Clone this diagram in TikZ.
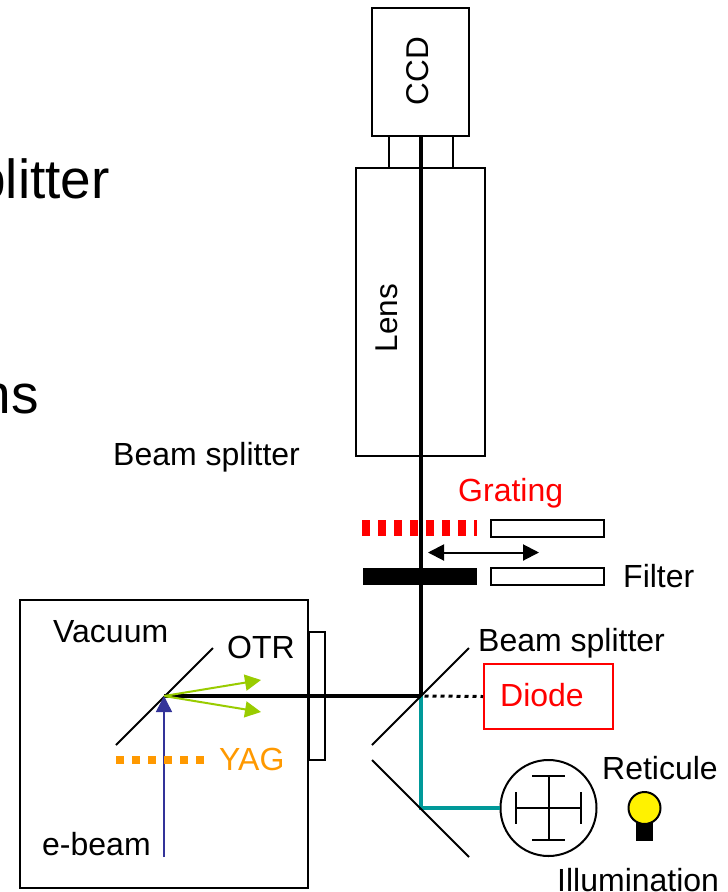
\documentclass[tikz,border=0pt]{standalone}
\usepackage{fontspec}
\setmainfont{Liberation Sans}
\usetikzlibrary{arrows.meta}
\definecolor{teal1}{HTML}{009999}
\definecolor{green1}{HTML}{99CC00}
\definecolor{blue1}{HTML}{333399}
\definecolor{orange1}{HTML}{FF9900}
\tikzset{
  box/.style={draw=black,line width=2pt,inner sep=0pt,fill=white},
  lbl/.style={inner sep=0pt,anchor=base west,font=\fontsize{32}{36}\selectfont},
  big/.style={inner sep=0pt,anchor=base east,font=\fontsize{55}{60}\selectfont},
  rot/.style={inner sep=0pt,rotate=90,font=\fontsize{31.5}{36}\selectfont},
  mirror/.style={line width=2pt},
  beam/.style={line width=4pt},
  tealbeam/.style={line width=4pt,teal1},
}
\begin{document}
\begin{tikzpicture}[x=1pt,y=-1pt]
\useasboundingbox (0,0) rectangle (728,892);
\clip (0,0) rectangle (728,892);
% cut-off large text
\node[big] (bigone) at (110,198) {plitter};
\node[big] (bigtwo) at (39,413) {ns};
% boxes
\node[box,minimum width=97pt,minimum height=128pt] (ccd) at (420.75,72) {};
\node[box,minimum width=64pt,minimum height=32pt] (neck) at (420.5,152) {};
\node[box,minimum width=129pt,minimum height=288pt] (lens) at (420.5,312) {};
\node[box,minimum width=288pt,minimum height=288pt] (vac) at (164,744) {};
\node[box,minimum width=16pt,minimum height=128pt] (win) at (316.5,696) {};
\node[box,minimum width=113pt,minimum height=17pt] (grrect) at (547.5,528.5) {};
\node[box,minimum width=113pt,minimum height=17pt] (firect) at (547.5,576.5) {};
\node[draw=red,line width=2pt,inner sep=0pt,minimum width=129pt,minimum height=65pt] (diode) at (548.5,696.5) {};
% coordinates
\coordinate (bs) at (420.5,696);
\coordinate (otr) at (164,696);
\coordinate (fold) at (420.5,808);
\coordinate (ebeam) at (164,857);
\coordinate (g1) at (261,680);
\coordinate (g2) at (261,712);
\coordinate (gratL) at (362,528);
\coordinate (gratR) at (477,528);
\coordinate (filtL) at (363,576.5);
\coordinate (filtR) at (477,576.5);
\coordinate (yagL) at (116,760);
\coordinate (yagR) at (206,760);
\coordinate (arrL) at (428,552.5);
\coordinate (arrR) at (539,552.5);
% reticule
\node[draw=black,fill=white,line width=2pt,circle,inner sep=0pt,minimum size=96pt] (ret) at (548.5,808) {};
% beams
\draw[tealbeam,line join=miter] (bs) -- (fold) -- (ret.west);
\draw[beam] (otr) -- (bs);
\draw[beam] (ccd.south -| bs) -- (bs);
\draw[line width=3pt,dash pattern=on 4pt off 4pt] ([xshift=4pt]bs) -- (diode.west);
% mirrors
\coordinate (m1a) at (372,745); \coordinate (m1b) at (469,648);
\coordinate (m2a) at (372,760); \coordinate (m2b) at (469,857);
\coordinate (m3a) at (116,745); \coordinate (m3b) at (213,648);
\draw[mirror] (m1a) -- (m1b);
\draw[mirror] (m2a) -- (m2b);
\draw[mirror] (m3a) -- (m3b);
% grating and filter
\draw[red,line width=16pt,dash pattern=on 8pt off 8pt] (gratL) -- (gratR);
\draw[black,line width=17pt] (filtL) -- (filtR);
\draw[line width=2pt,{Triangle[length=16pt,width=16pt]}-{Triangle[length=16pt,width=16pt]}] (arrL) -- (arrR);
% OTR rays
\draw[green1,line width=2pt,-{Triangle[length=16pt,width=16pt]}] (otr) -- (g1);
\draw[green1,line width=2pt,-{Triangle[length=16pt,width=16pt]}] (otr) -- (g2);
\draw[blue1,line width=1.5pt,-{Triangle[length=16pt,width=16pt]}] (ebeam) -- (otr);
\draw[orange1,line width=8pt,dash pattern=on 8pt off 8pt] (yagL) -- (yagR);
% reticule cross
\draw[line width=2pt] (516,808) -- (581,808) (548.5,776) -- (548.5,840)
  (532,776) -- (565,776) (532,840) -- (565,840)
  (516,792) -- (516,824) (581,792) -- (581,824);
% illumination
\node[fill=black,inner sep=0pt,minimum width=17pt,minimum height=18pt] (base) at (644.5,832) {};
\node[draw=black,fill=yellow,line width=2pt,circle,inner sep=0pt,minimum size=32pt] (bulb) at (644.5,808) {};
% labels
\node[rot] (tccd) at (417.5,71) {CCD};
\node[rot] (tlens) at (386.5,318) {Lens};
\node[lbl] (tbs1) at (113,465) {Beam splitter};
\node[lbl,text=red] (tgr) at (458,501) {Grating};
\node[lbl] (tfi) at (623,587) {Filter};
\node[lbl] (tbs2) at (478,651) {Beam splitter};
\node[lbl,text=red] (tdi) at (500,706) {Diode};
\node[lbl] (tre) at (602,779) {Reticule};
\node[lbl] (til) at (557,891) {Illumination};
\node[lbl] (tva) at (53,642) {Vacuum};
\node[lbl] (tot) at (227,658) {OTR};
\node[lbl,text=orange1] (tya) at (219,770) {YAG};
\node[lbl] (teb) at (42,855) {e-beam};
\end{tikzpicture}
\end{document}
